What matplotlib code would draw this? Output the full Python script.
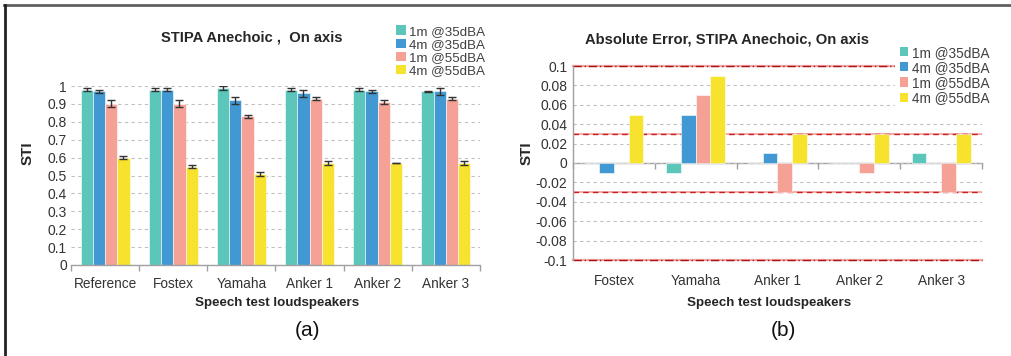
import matplotlib
matplotlib.use("Agg")
import matplotlib.pyplot as plt
import numpy as np
from matplotlib.patches import Patch
from matplotlib.lines import Line2D
from matplotlib.ticker import FixedLocator, NullFormatter

plt.rcParams['font.family'] = ['Liberation Sans', 'DejaVu Sans']

series = ['1m @35dBA', '4m @35dBA', '1m @55dBA', '4m @55dBA']
colors = ['#5CC6BB', '#4298D3', '#F5A195', '#F7E22E']

cats_a = ['Reference', 'Fostex', 'Yamaha', 'Anker 1', 'Anker 2', 'Anker 3']
sti_1m35 = [0.98, 0.98, 0.99, 0.98, 0.98, 0.97]
sti_4m35 = [0.97, 0.98, 0.92, 0.96, 0.97, 0.97]
sti_1m55 = [0.90, 0.90, 0.83, 0.93, 0.91, 0.93]
sti_4m55 = [0.60, 0.55, 0.51, 0.57, 0.57, 0.57]
err_1m35 = [0.01, 0.01, 0.01, 0.01, 0.01, 0.002]
err_4m35 = [0.01, 0.01, 0.02, 0.02, 0.01, 0.02]
err_1m55 = [0.02, 0.02, 0.01, 0.01, 0.01, 0.01]
err_4m55 = [0.01, 0.01, 0.01, 0.01, 0.002, 0.01]

cats_b = ['Fostex', 'Yamaha', 'Anker 1', 'Anker 2', 'Anker 3']
ae_1m35 = [0.00, -0.01, 0.00, 0.00, 0.01]
ae_4m35 = [-0.01, 0.05, 0.01, 0.00, 0.00]
ae_1m55 = [0.00, 0.07, -0.03, -0.01, -0.03]
ae_4m55 = [0.05, 0.09, 0.03, 0.03, 0.03]
limit_outer = 0.1
limit_inner = 0.03

W, H = 1012, 356
fig = plt.figure(figsize=(W / 100, H / 100), dpi=100)

def fx(px):
    return px / W

def fy(py):
    return 1 - py / H

txtc = '#262626'
tickc = '#333333'
gridc = '#c0c0c0'
axc = '#a0a0a0'
bw = 0.18
offs = (np.arange(4) - 1.5) * bw

# ---------- panel (a) ----------
axa = fig.add_axes([fx(71), fy(265), fx(480 - 71), (265 - 86) / H])
vals_a = [sti_1m35, sti_4m35, sti_1m55, sti_4m55]
errs_a = [err_1m35, err_4m35, err_1m55, err_4m55]
xa = np.arange(len(cats_a))
for i in range(4):
    axa.bar(xa + offs[i], vals_a[i], bw, color=colors[i], edgecolor='#ffffff',
            linewidth=0.4, zorder=2,
            yerr=errs_a[i], error_kw=dict(ecolor='#333333', elinewidth=1.0,
                                           capsize=3, capthick=1.0, zorder=3))
axa.set_xlim(-0.5, len(cats_a) - 0.5)
axa.set_ylim(0, 1.0)
yt_a = [0, 0.1, 0.2, 0.3, 0.4, 0.5, 0.6, 0.7, 0.8, 0.9, 1.0]
axa.set_yticks(yt_a)
axa.set_yticklabels(['%g' % v for v in yt_a])
axa.yaxis.grid(True, color=gridc, linestyle=(0, (3, 3)), linewidth=0.8, zorder=0)
axa.set_axisbelow(True)
axa.set_xticks(xa)
axa.set_xticklabels(cats_a)
axa.xaxis.set_minor_locator(FixedLocator(np.arange(len(cats_a) + 1) - 0.5))
axa.tick_params(axis='x', which='major', length=0, pad=9, labelsize=9.8, labelcolor=tickc)
axa.tick_params(axis='x', which='minor', length=4, color=axc, width=1)
axa.tick_params(axis='y', length=0, pad=3, labelsize=10, labelcolor=tickc)
for s in ['top', 'right', 'left']:
    axa.spines[s].set_visible(False)
axa.spines['bottom'].set_color(axc)
axa.spines['bottom'].set_linewidth(1)

fig.text(fx(252), fy(37), 'STIPA Anechoic ,  On axis', ha='center', va='center',
         fontsize=10.6, fontweight='bold', color=txtc)
fig.text(fx(28), fy(153), 'STI', rotation=90, ha='center', va='center',
         fontsize=11, fontweight='bold', color=txtc)
fig.text(fx(277), fy(303), 'Speech test loudspeakers', ha='center', va='center',
         fontsize=9.6, fontweight='bold', color=txtc)
fig.text(fx(307), fy(331), '(a)', ha='center', va='center', fontsize=15, color='#111111')

handles = [Patch(facecolor=c, edgecolor='none') for c in colors]
fig.legend(handles, series, loc='upper left', bbox_to_anchor=(fx(387), fy(16)),
           frameon=False, fontsize=9.6, handlelength=0.7, handleheight=0.7,
           handletextpad=0.25, labelspacing=0.07, borderpad=0.2,
           labelcolor='#404040')

# ---------- panel (b) ----------
axb = fig.add_axes([fx(573), fy(260), fx(982 - 573), (260 - 66) / H])
vals_b = [ae_1m35, ae_4m35, ae_1m55, ae_4m55]
xb = np.arange(len(cats_b))
for i in range(4):
    axb.bar(xb + offs[i], vals_b[i], bw, color=colors[i], edgecolor='#ffffff',
            linewidth=0.4, zorder=2)
axb.set_xlim(-0.5, len(cats_b) - 0.5)
axb.set_ylim(-0.1, 0.1)
yt_b = [-0.1, -0.08, -0.06, -0.04, -0.02, 0, 0.02, 0.04, 0.06, 0.08, 0.1]
axb.set_yticks(yt_b)
axb.set_yticklabels(['%g' % v for v in yt_b])
axb.yaxis.grid(True, color=gridc, linestyle=(0, (3, 3)), linewidth=0.8, zorder=0)
axb.set_axisbelow(True)
axb.set_xticks(xb)
axb.set_xticklabels(cats_b)
axb.tick_params(axis='x', length=0, pad=10, labelsize=9.8, labelcolor=tickc)
axb.tick_params(axis='y', length=0, pad=4, labelsize=10, labelcolor=tickc)
for s in ['top', 'right', 'bottom']:
    axb.spines[s].set_visible(False)
axb.spines['left'].set_color(axc)
axb.spines['left'].set_linewidth(1)

# zero axis with category-boundary ticks
sec = axb.secondary_xaxis(0.5)
sec.set_xticks(np.arange(len(cats_b) + 1) - 0.5)
sec.xaxis.set_major_formatter(NullFormatter())
sec.xaxis.set_ticks_position('top')
sec.tick_params(axis='x', direction='in', length=4, color=axc, width=1)
for s in sec.spines.values():
    s.set_color(axc)
    s.set_linewidth(1)

for lv in [limit_inner, -limit_inner]:
    axb.axhline(lv, color='#f0a0a0', linewidth=1.2, zorder=1.5)
    axb.axhline(lv, color='#cc1f1f', linewidth=1.0, linestyle=(0, (4, 3)), zorder=1.6)
for lv in [limit_outer, -limit_outer]:
    axb.axhline(lv, color='#f0a8a8', linewidth=1.6, zorder=1.5, clip_on=False)
    axb.axhline(lv, color='#b01010', linewidth=1.0, linestyle=(0, (6, 2, 1, 2)),
                zorder=1.6, clip_on=False)

leg = axb.legend(handles, series, loc='upper left', bbox_to_anchor=(fx(888), fy(34)),
                 bbox_transform=fig.transFigure, frameon=True, fontsize=9.8,
                 handlelength=0.65, handleheight=0.65, handletextpad=0.25,
                 labelspacing=0.08, borderpad=0.35, labelcolor='#404040',
                 facecolor='white', edgecolor='none', framealpha=1, fancybox=False)
leg.set_zorder(5)

fig.text(fx(727), fy(40), 'Absolute Error, STIPA Anechoic, On axis', ha='center',
         va='center', fontsize=10.6, fontweight='bold', color=txtc)
fig.text(fx(527), fy(153), 'STI', rotation=90, ha='center', va='center',
         fontsize=11, fontweight='bold', color=txtc)
fig.text(fx(769), fy(303), 'Speech test loudspeakers', ha='center', va='center',
         fontsize=9.6, fontweight='bold', color=txtc)
fig.text(fx(783), fy(331), '(b)', ha='center', va='center', fontsize=15, color='#111111')

# outer frame lines
fig.add_artist(Line2D([fx(4), 1], [fy(5), fy(5)], color='#606060', linewidth=2))
fig.add_artist(Line2D([fx(5), fx(5)], [0, fy(5)], color='#222222', linewidth=2))

fig.savefig('out.png', dpi=100)
